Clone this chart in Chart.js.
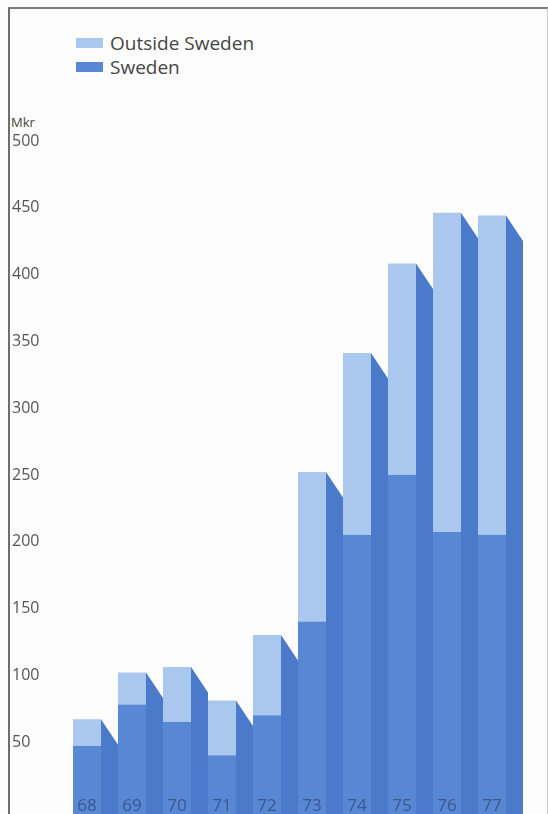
<!DOCTYPE html>
<html>
<head>
<meta charset="utf-8">
<script src="https://cdn.jsdelivr.net/npm/chart.js@4/dist/chart.umd.min.js"></script>
<style>
  html, body { margin: 0; padding: 0; background: #fdfdfd; width: 548px; height: 814px; overflow: hidden;
               font-family: "Open Sans", "DejaVu Sans", sans-serif; }
  #frame { position: absolute; left: 8px; top: 7px; width: 537px; height: 830px;
           border-top: 2px solid #7c7c7c; border-left: 2px solid #6e6e6e; border-right: 1px solid #c8c8c8; }
  #chart { position: absolute; left: 0; top: 0; }
  #legend { position: absolute; left: 76px; top: 31px; color: #454545; font-size: 19px; }
  #legend .item { display: flex; align-items: center; height: 24px; }
  #legend .sw { width: 27px; height: 10px; margin-right: 7px; }
  #unit { position: absolute; left: 11px; top: 114px; font-size: 13px; line-height: 16px; color: #444; }
</style>
</head>
<body>
<div id="frame"></div>
<div id="legend"></div>
<div id="unit">Mkr</div>
<canvas id="chart" width="548" height="814"></canvas>
<script>
// Years (19xx) along the bottom
const years = ['68', '69', '70', '71', '72', '73', '74', '75', '76', '77'];
// Mkr, lower segment of each column
const sweden = [51, 82, 69, 44, 74, 144, 209, 254, 211, 209];
// Mkr, upper segment stacked on top of Sweden
const outsideSweden = [20, 24, 41, 41, 60, 112, 136, 158, 239, 239];
// Value axis labels
const yTickValues = [50, 100, 150, 200, 250, 300, 350, 400, 450, 500];

const LIGHT = '#aac8ee';
const DARK = '#5887d4';
const SIDE = '#4b7acb';

// Builds the legend as HTML, upper segment first
function buildLegend(chart) {
  const box = document.getElementById('legend');
  box.innerHTML = '';
  [...chart.data.datasets].reverse().forEach(ds => {
    const row = document.createElement('div');
    row.className = 'item';
    const sw = document.createElement('span');
    sw.className = 'sw';
    sw.style.background = ds.backgroundColor;
    const txt = document.createElement('span');
    txt.textContent = ds.label;
    row.appendChild(sw);
    row.appendChild(txt);
    box.appendChild(row);
  });
}

// Draws the shaded right-hand face of each column and the year labels
const columnFaces = {
  id: 'columnFaces',
  beforeDatasetsDraw(chart) {
    const { ctx, scales: { x, y } } = chart;
    const tops = chart.getDatasetMeta(1).data;
    const pitch = x.getPixelForValue(1) - x.getPixelForValue(0);
    const base = y.getPixelForValue(0);
    ctx.save();
    ctx.fillStyle = SIDE;
    tops.forEach(bar => {
      const right = bar.x + bar.width / 2;
      const depth = pitch - bar.width;
      const drop = depth * 1.5;
      ctx.beginPath();
      ctx.moveTo(right, bar.y);
      ctx.lineTo(right + depth, bar.y + drop);
      ctx.lineTo(right + depth, base + 2);
      ctx.lineTo(right, base + 2);
      ctx.closePath();
      ctx.fill();
    });
    ctx.restore();
  },
  afterDatasetsDraw(chart) {
    const { ctx, scales: { x } } = chart;
    ctx.save();
    ctx.fillStyle = '#3a5890';
    ctx.font = '17px "Open Sans", sans-serif';
    ctx.textAlign = 'center';
    ctx.textBaseline = 'middle';
    chart.data.labels.forEach((lab, i) => {
      ctx.fillText(lab, x.getPixelForValue(i), 806);
    });
    ctx.restore();
  }
};

const chart = new Chart(document.getElementById('chart'), {
  type: 'bar',
  data: {
    labels: years,
    datasets: [
      { label: 'Sweden', data: sweden, backgroundColor: DARK, borderWidth: 0 },
      { label: 'Outside Sweden', data: outsideSweden, backgroundColor: LIGHT, borderWidth: 0 }
    ]
  },
  options: {
    responsive: false,
    animation: false,
    devicePixelRatio: 1,
    layout: { padding: { left: 12, right: 33.5, top: 146, bottom: 0 } },
    datasets: { bar: { categoryPercentage: 1, barPercentage: 28 / 45 } },
    plugins: { legend: { display: false }, tooltip: { enabled: false } },
    scales: {
      x: { stacked: true, display: false },
      y: {
        stacked: true,
        min: 0,
        max: 500,
        position: 'left',
        grid: { display: false, drawTicks: false },
        border: { display: false },
        afterBuildTicks: s => { s.ticks = yTickValues.map(v => ({ value: v })); },
        afterFit: s => { s.width = 52.5; s.paddingTop = 0; s.paddingBottom = 0; },
        ticks: {
          crossAlign: 'far',
          padding: 0,
          labelOffset: -5,
          color: '#555',
          font: { family: '"Open Sans", sans-serif', size: 16 }
        }
      }
    }
  },
  plugins: [columnFaces]
});
buildLegend(chart);
</script>
</body>
</html>
